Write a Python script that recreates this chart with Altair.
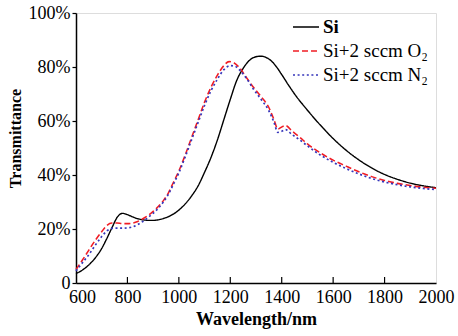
import altair as alt
import pandas as pd

# ---- data ----
series_names = ["Si", "Si+2 sccm O\u2082", "Si+2 sccm N\u2082"]
series_colors = ["#000000", "#f01c24", "#3535bb"]

wl_si = [600, 625, 650, 675, 700, 720, 740, 760, 780, 800, 820, 840, 860, 880, 900,
         920, 940, 960, 980, 1000, 1025, 1050, 1075, 1100, 1125, 1150, 1175, 1200,
         1225, 1250, 1275, 1300, 1320, 1340, 1360, 1380, 1400, 1425, 1450, 1500,
         1550, 1600, 1650, 1700, 1750, 1800, 1850, 1900, 1950, 2000]
t_si = [3.5, 4.8, 6.7, 9.3, 12.8, 16.5, 20.5, 24.3, 25.8, 25.3, 24.5, 23.8, 23.4,
        23.2, 23.2, 23.4, 23.9, 24.6, 25.6, 27.0, 29.3, 32.3, 36.0, 41.0, 46.5,
        53.0, 60.5, 68.0, 75.0, 79.5, 82.5, 83.8, 84.0, 83.5, 82.2, 80.0, 77.2,
        73.5, 70.0, 64.0, 58.5, 53.5, 49.2, 45.6, 42.6, 40.2, 38.4, 37.0, 36.0, 35.3]

wl_o2 = [600, 625, 650, 675, 700, 720, 740, 760, 780, 800, 820, 840, 860, 880, 900,
         920, 940, 960, 980, 1000, 1025, 1050, 1075, 1100, 1125, 1150, 1175, 1195,
         1215, 1235, 1260, 1290, 1320, 1350, 1370, 1385, 1400, 1415, 1440, 1470,
         1500, 1550, 1600, 1650, 1700, 1750, 1800, 1850, 1900, 1950, 2000]
t_o2 = [5.0, 8.5, 12.2, 15.8, 19.0, 21.3, 22.2, 22.2, 22.0, 22.0, 22.2, 22.8, 23.8,
        25.0, 26.5, 28.3, 30.5, 33.5, 37.5, 41.5, 47.5, 54.0, 60.5, 67.0, 72.5,
        77.0, 80.5, 82.0, 81.5, 79.8, 76.5, 72.5, 69.0, 65.0, 60.5, 57.0, 57.8,
        58.3, 56.3, 54.0, 51.5, 48.2, 45.5, 43.3, 41.2, 39.4, 38.0, 36.9, 36.1,
        35.5, 35.1]

wl_n2 = [600, 625, 650, 675, 700, 720, 740, 760, 780, 800, 820, 840, 860, 880, 900,
         920, 940, 960, 980, 1000, 1025, 1050, 1075, 1100, 1125, 1150, 1175, 1200,
         1220, 1240, 1265, 1290, 1320, 1350, 1370, 1385, 1400, 1415, 1440, 1470,
         1500, 1550, 1600, 1650, 1700, 1750, 1800, 1850, 1900, 1950, 2000]
t_n2 = [4.5, 7.5, 10.5, 14.0, 17.2, 19.3, 20.2, 20.3, 20.3, 20.4, 20.8, 21.6, 22.8,
        24.2, 25.8, 27.7, 30.0, 33.0, 36.8, 40.8, 46.8, 53.2, 59.5, 65.8, 71.2,
        75.5, 79.0, 80.5, 80.2, 78.5, 75.5, 71.8, 68.0, 63.8, 59.5, 55.8, 56.2,
        56.8, 55.0, 53.0, 50.8, 47.4, 44.7, 42.4, 40.4, 38.7, 37.4, 36.4, 35.6,
        35.0, 34.6]

x_ticks = [600, 800, 1000, 1200, 1400, 1600, 1800, 2000]
y_ticks = [0, 20, 40, 60, 80, 100]
inner_ticks = [800, 1000, 1200, 1400, 1600, 1800]

rows = []
for name, wls, ts in zip(series_names, [wl_si, wl_o2, wl_n2], [t_si, t_o2, t_n2]):
    for w, t in zip(wls, ts):
        rows.append({"series": name, "wl": w, "t": t})
df = pd.DataFrame(rows)

FONT = "Liberation Serif"
W, H = 360, 270

legend = alt.Legend(
    title=None, orient="none", legendX=216, legendY=0,
    symbolType="stroke", symbolSize=676,
    labelFont=FONT, labelFontSize=19, labelColor="black",
    labelOffset=3, rowPadding=-4, padding=0, labelLimit=300,
    labelFontWeight={"expr": "datum.value === 'Si' ? 'bold' : 'normal'"},
)

x_enc = alt.X("wl:Q", scale=alt.Scale(domain=[600, 2000], nice=False, zero=False),
              axis=alt.Axis(values=x_ticks, ticks=False, grid=False, format="d",
                            labelFont=FONT, labelFontSize=18, labelColor="black",
                            labelPadding=5, title="Wavelength/nm",
                            labelOffset={"expr": "datum.value == 600 ? 6 : 0"},
                            titleFont=FONT, titleFontSize=18, titleFontWeight="bold",
                            titleColor="black", titlePadding=4,
                            domainColor="black", domainWidth=1.5, labelFlush=False))
y_enc = alt.Y("t:Q", scale=alt.Scale(domain=[0, 100], nice=False),
              axis=alt.Axis(values=y_ticks, grid=False, tickSize=4, tickColor="black",
                            tickWidth=1.2,
                            labelExpr="datum.value == 0 ? '0' : datum.value + '%'",
                            labelFont=FONT, labelFontSize=18, labelColor="black",
                            labelPadding=2, title="Transmittance",
                            titleFont=FONT, titleFontSize=16, titleFontWeight="bold",
                            titleColor="black", titlePadding=5, titleY=125,
                            domainColor="black", domainWidth=1.5))

lines = alt.Chart(df).mark_line(interpolate="monotone").encode(
    x=x_enc, y=y_enc,
    color=alt.Color("series:N", scale=alt.Scale(domain=series_names, range=series_colors),
                    legend=legend),
    strokeDash=alt.StrokeDash("series:N",
                              scale=alt.Scale(domain=series_names,
                                              range=[[1, 0], [6, 3], [2, 2.6]]),
                              legend=legend),
    strokeWidth=alt.StrokeWidth("series:N",
                                scale=alt.Scale(domain=series_names,
                                                range=[1.4, 1.7, 2.2]),
                                legend=legend),
    order=alt.Order("wl:Q"),
)

ticks = alt.Chart(pd.DataFrame({"wl": inner_ticks})).mark_rule(
    color="black", strokeWidth=1.2).encode(
    x=alt.X("wl:Q", scale=alt.Scale(domain=[600, 2000], nice=False, zero=False)),
    y=alt.value(H), y2=alt.value(H - 6),
)

chart = alt.layer(lines, ticks).properties(
    width=W, height=H,
    autosize=alt.AutoSizeParams(type="none"),
    padding={"left": 76, "top": 13, "right": 22, "bottom": 53},
).configure_view(stroke="black", strokeWidth=1.5).configure(background="white")

chart.save("out.html", embed_options={"renderer": "svg", "actions": False})
